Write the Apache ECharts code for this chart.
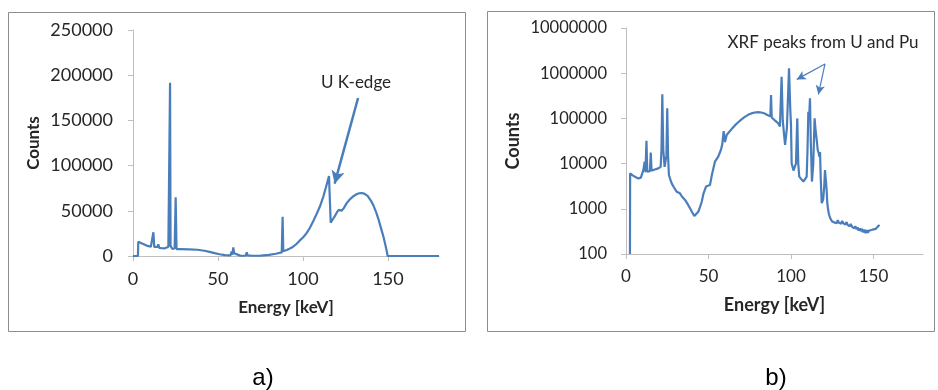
<!DOCTYPE html>
<html>
<head>
<meta charset="utf-8">
<script src="https://cdn.jsdelivr.net/npm/echarts@6/dist/echarts.min.js"></script>
<style>
html,body{margin:0;padding:0;background:#fff;}
#c{width:938px;height:390px;}
</style>
</head>
<body>
<div id="c"></div>
<script>
// Chart a) linear spectrum
const energyA = [0,2.9,3.1,3.7,5,8,10.5,11.5,12,12.5,13.5,14.5,14.9,15.4,17,18.8,20.8,21.5,21.8,22.1,23.3,24.5,25.1,25.6,27.6,33,38,42,45,48,51,54,57.3,58,58.5,59,59.5,60,63,66.3,66.9,67.4,68,68.5,70,75,80,84,87.5,88,88.4,90.4,92,94,96,98,100,102,104,106,108,110,112,113.5,115.3,115.6,116.3,117,118,119,120,121,121.8,122.7,124,125.7,127.5,129.5,131.5,133,134.5,136,138,140,141.4,143,144.5,146,147.5,148.5,149.3,149.8,165,180];
const countsA = [0,0,15800,15800,14000,11500,10300,10300,26200,10000,9500,10000,13000,9000,8600,8500,10300,12000,191700,11000,7700,8500,65000,7700,7700,7400,6900,5800,4600,3200,1900,1000,600,4800,1500,9600,3000,800,400,300,4100,700,2500,400,300,500,1200,2500,4000,43500,5200,6600,8000,10000,13000,17000,20500,25000,31000,38500,46500,55000,66000,76000,88500,72000,36800,39000,42000,45000,48500,51000,51500,50000,53000,58500,62500,66000,68300,69400,69700,69000,66500,61000,56000,48500,40000,30000,20000,12000,5000,0,0,0];
const yTicksA = [0,50000,100000,150000,200000,250000];

// Chart b) log spectrum
const energyB = [2.4,2.5,4,6,7.5,9,10,10.5,11.3,11.8,12.4,12.9,13.8,14.5,15,15.5,17,19.6,21,21.5,22,22.6,23.4,24.5,25,25.5,26,27,27.7,29,30.7,32.7,34,35.8,37.5,38.8,40,41.4,42.5,43.8,44.9,45.9,47,48.5,50.9,52,53.9,55.9,57.5,58.3,59.2,60,61,62.5,64,66,68,70,72,74,76,78,80,82,84,86,87.5,87.9,88.3,90,92,93.3,94.3,95,96.4,97.5,98.8,99.5,100,100.4,101.5,102.4,103,103.8,104.4,105,107.5,109.5,110,110.5,111,111.5,112,112.7,113.5,114.3,115,115.6,116.2,116.8,117.2,117.6,118,118.6,119.5,120.1,120.6,121.2,121.6,122,122.5,123,123.6,124.2,124.8,125.5,126.2,127,127.7,128.4,129,129.7,130.4,131,131.7,132.3,133,133.7,134.3,135,135.6,136.2,137,137.6,138.3,139,139.8,140.4,141,141.7,142.3,143,143.8,144.5,145.2,146,146.6,147.3,148,148.7,149.4,150,150.7,151.4,152,152.6,153.1,153.5];
const countsB = [100,6100,5500,5000,4700,4900,5200,7200,11000,6500,32000,6600,7000,6800,17500,7000,7300,7850,8500,20000,341000,20000,8500,15000,167000,15000,5600,4300,3650,3000,2390,2200,1850,1570,1250,1030,850,690,730,860,1100,1430,2200,3100,3360,5500,11000,14200,20000,26000,52000,30000,43000,50000,58000,70000,82000,95000,108000,120000,129000,135000,137000,135000,128000,118000,112000,330000,105000,92000,80000,66000,838000,90000,25800,60000,1280000,180000,70000,10200,7000,6600,10000,100000,10000,5150,4000,5150,20000,141000,100000,278000,30000,4000,10000,100000,50000,33000,20000,16900,14200,18000,5000,1330,1600,3000,7200,4000,2600,1330,950,760,640,610,530,580,500,550,480,560,490,530,470,540,480,520,450,510,440,480,410,460,400,440,370,410,350,390,330,370,320,360,300,345,290,335,295,330,300,340,310,350,320,360,330,390,420,445];
const yTicksB = [100,1000,10000,100000,1000000,10000000];

const xTicks = [0,50,100,150];

const blue = '#4a7ebb';
const txt = '#262626';
const axisGray = '#bfbfbf';
const font = 'Lato';

const seriesA = energyA.map((e,i)=>[e,countsA[i]]);
const seriesB = energyB.map((e,i)=>[e,countsB[i]]);

function xAxis(gridIndex, labelSize, nameSize, nameGap){
  return {
    type:'value', gridIndex, min:0, max:180, interval:50,
    axisLine:{show:true,lineStyle:{color:axisGray,width:1}},
    axisTick:{show:true,length:5,lineStyle:{color:axisGray},customValues:xTicks},
    axisLabel:{color:txt,fontFamily:font,fontSize:labelSize,margin:14,customValues:xTicks,formatter:v=>String(v)},
    splitLine:{show:false},
    name:'Energy [keV]', nameLocation:'middle', nameGap,
    nameTextStyle:{color:txt,fontFamily:font,fontWeight:'bold',fontSize:nameSize}
  };
}

const chart = echarts.init(document.getElementById('c'), null, {renderer:'canvas'});
chart.setOption({
  animation:false,
  backgroundColor:'#fff',
  grid:[
    {left:133, top:30, width:306, height:226},
    {left:626, top:28, width:297, height:226}
  ],
  xAxis:[ xAxis(0,18,17,43), xAxis(1,17,18,42) ],
  yAxis:[
    {
      type:'value', gridIndex:0, min:0, max:250000, interval:50000,
      axisLine:{show:true,lineStyle:{color:axisGray}},
      axisTick:{show:true,length:5,lineStyle:{color:axisGray}},
      axisLabel:{color:txt,fontFamily:font,fontSize:18,margin:20,formatter:v=>String(v)},
      splitLine:{show:false},
      name:'Counts', nameLocation:'middle', nameGap:91,
      nameTextStyle:{color:txt,fontFamily:font,fontWeight:'bold',fontSize:17}
    },
    {
      type:'log', logBase:10, gridIndex:1, min:100, max:10000000,
      axisLine:{show:true,lineStyle:{color:axisGray}},
      axisTick:{show:true,length:5,lineStyle:{color:axisGray}},
      axisLabel:{color:txt,fontFamily:font,fontSize:16.5,margin:19,formatter:v=>String(Math.round(v))},
      splitLine:{show:false},
      minorTick:{show:false},
      name:'Counts', nameLocation:'middle', nameGap:104,
      nameTextStyle:{color:txt,fontFamily:font,fontWeight:'bold',fontSize:18}
    }
  ],
  series:[
    {
      type:'line', xAxisIndex:0, yAxisIndex:0, data:seriesA, showSymbol:false, symbol:'none',
      lineStyle:{color:blue,width:2.2}, silent:true,
      markLine:{
        silent:true, symbol:['none','arrow'], symbolSize:[10,13],
        label:{show:false},
        lineStyle:{color:blue,width:2.5,type:'solid'},
        data:[[{coord:[132.4,174800]},{coord:[118.6,80000]}]]
      }
    },
    {
      type:'line', xAxisIndex:1, yAxisIndex:1, data:seriesB, showSymbol:false, symbol:'none',
      lineStyle:{color:blue,width:2.2}, silent:true,
      markLine:{
        silent:true, symbol:['none','arrow'], symbolSize:[7,9],
        label:{show:false},
        lineStyle:{color:blue,width:1.2,type:'solid'},
        data:[
          [{coord:[120.6,1600000]},{coord:[103.5,730000]}],
          [{coord:[120.6,1600000]},{coord:[116.6,340000]}]
        ]
      }
    }
  ],
  graphic:[
    {type:'rect', shape:{x:8.5,y:12.5,width:457,height:319}, style:{fill:'none',stroke:'#8c8c8c',lineWidth:1}, silent:true},
    {type:'rect', shape:{x:487.5,y:11.5,width:447,height:320}, style:{fill:'none',stroke:'#8c8c8c',lineWidth:1}, silent:true},
    {type:'text', x:356, y:83, style:{text:'U K-edge', fill:txt, font:'17px Lato', align:'center', verticalAlign:'middle'}, silent:true},
    {type:'text', x:823, y:43, style:{text:'XRF peaks from U and Pu', fill:txt, font:'17px Lato', align:'center', verticalAlign:'middle'}, silent:true},
    {type:'text', x:263, y:378, style:{text:'a)', fill:'#000', font:'24px "Liberation Sans"', align:'center', verticalAlign:'middle'}, silent:true},
    {type:'text', x:776, y:378, style:{text:'b)', fill:'#000', font:'24px "Liberation Sans"', align:'center', verticalAlign:'middle'}, silent:true}
  ]
});
</script>
</body>
</html>
